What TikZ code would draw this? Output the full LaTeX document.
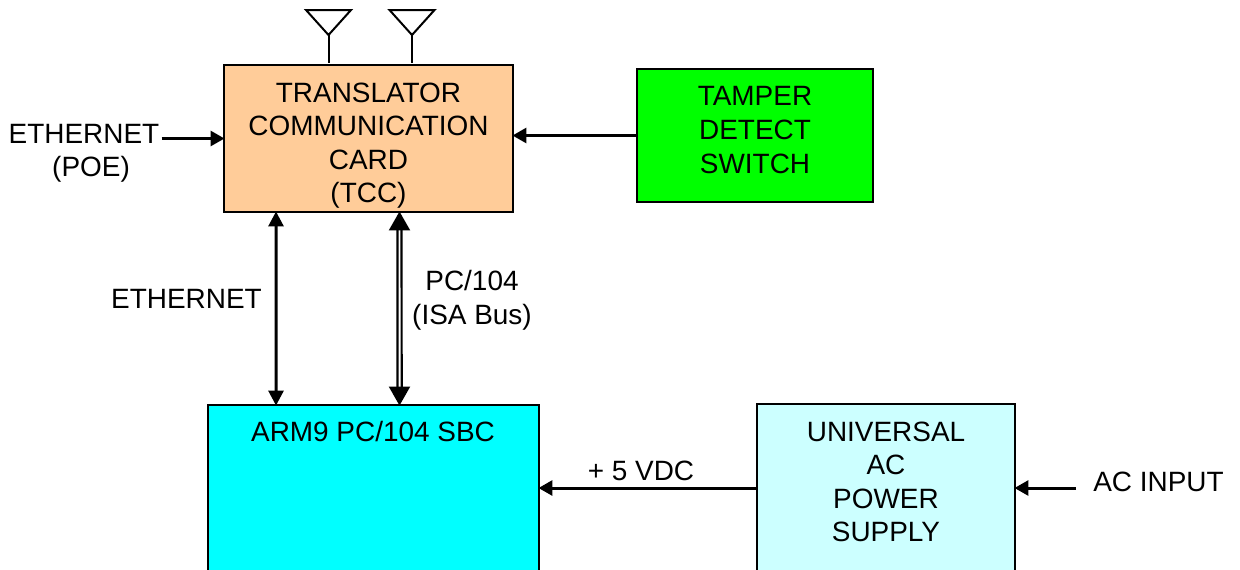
\documentclass[tikz,border=0pt]{standalone}
\usepackage{fontspec}
\setmainfont{Liberation Sans}
\usepackage{xcolor}
\usetikzlibrary{arrows.meta}
\definecolor{tccpeach}{HTML}{FFCC99}
\definecolor{tampergreen}{HTML}{00FF00}
\definecolor{armcyan}{HTML}{00FFFF}
\definecolor{supplycyan}{HTML}{CCFFFF}
\tikzset{
    box/.style={draw=black,line width=0.04cm,inner sep=0pt},
    txt/.style={align=center,inner sep=0.04cm,font=\fontsize{15.9}{19.1}\selectfont},
    wire/.style={line width=0.06cm,shorten >=-0.03cm,-{Triangle[length=0.28cm,width=0.3cm]}},
    wireboth/.style={line width=0.06cm,shorten >=-0.03cm,shorten <=-0.03cm,{Triangle[length=0.3cm,width=0.3cm]}-{Triangle[length=0.3cm,width=0.3cm]}},
    bus/.style={double,line width=0.045cm,double distance=0.04cm,shorten >=-0.03cm,shorten <=-0.03cm,{Triangle[length=0.38cm,width=0.42cm]}-{Triangle[length=0.38cm,width=0.42cm]}},
    antenna/.style={line width=0.04cm,line join=miter}
}
\begin{document}
\begin{tikzpicture}[x=0.02cm,y=-0.02cm]
    \useasboundingbox (0,0) rectangle (1240,569);
    \clip (0,0) rectangle (1240,569);
    % boxes
    \node[box,fill=tccpeach,minimum width=5.78cm,minimum height=2.94cm] (tcc) at (368.5,138.5) {};
    \node[box,fill=tampergreen,minimum width=4.72cm,minimum height=2.66cm] (tamper) at (755,135.5) {};
    \node[box,fill=armcyan,minimum width=6.62cm,minimum height=4cm] (arm) at (373.5,505) {};
    \node[box,fill=supplycyan,minimum width=5.16cm,minimum height=3.36cm] (supply) at (886,488) {};
    % box texts
    \node[txt] (tcctext) at (368.5,145.5) {TRANSLATOR\\COMMUNICATION\\CARD\\(TCC)};
    \node[txt] (tampertext) at (755,130) {TAMPER\\DETECT\\SWITCH};
    \node[txt] (armtext) at (373,432) {ARM9 PC/104 SBC};
    \node[txt] (supplytext) at (886,482) {UNIVERSAL\\AC\\POWER\\SUPPLY};
    % outside labels
    \node[txt] (poeline) at (84,133.5) {ETHERNET};
    \node[txt] (poetext) at (91,169) {(POE)};
    \node[txt] (ethtext) at (186.5,298.5) {ETHERNET};
    \node[txt] (bustext) at (472,300) {PC/104\\(ISA Bus)};
    \node[txt] (vdctext) at (641,471) {+ 5 VDC};
    \node[txt] (acin) at (1158.5,482) {AC INPUT};
    \coordinate (acstart) at (1076,488);
    % connectors
    \draw[wire] (poeline.east |- tcc.west) -- (tcc.west);
    \draw[wire] (tamper.west) -- (tamper.west -| tcc.east);
    \draw[wire] (supply.west) -- (supply.west -| arm.east);
    \draw[wire] (acstart) -- (supply.east);
    \draw[wireboth] ([xshift=-1.85cm]tcc.south) -- ([xshift=-1.95cm]arm.north);
    \draw[bus] ([xshift=0.62cm]tcc.south) -- ([xshift=0.52cm]arm.north);
    % antennas
    \foreach \ant/\xpos in {one/328.5,two/412}{
        \coordinate (\ant tip) at (\xpos,35);
        \coordinate (\ant foot) at (\xpos,63);
        \draw[antenna] (\ant tip) -- ++(-22.5,-25) -- ++(45,0) -- cycle;
        \draw[antenna] (\ant tip) -- (\ant foot);
    }
\end{tikzpicture}
\end{document}
